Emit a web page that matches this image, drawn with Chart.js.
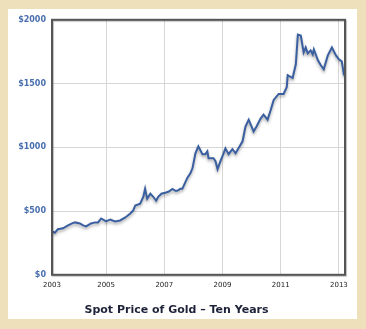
<!DOCTYPE html>
<html>
<head>
<meta charset="utf-8">
<script src="https://cdn.jsdelivr.net/npm/chart.js@4/dist/chart.umd.min.js"></script>
<style>
  html, body { margin: 0; padding: 0; }
  body { width: 366px; height: 329px; background: #efe0bc; position: relative; overflow: hidden; }
  #goldChart { position: absolute; left: 8px; top: 9px; background: #fff; }
</style>
</head>
<body>
<canvas id="goldChart" width="349" height="310"></canvas>
<script>
// decimal year of each reading
const years = [
  2003.14, 2003.24, 2003.34, 2003.52, 2003.69, 2003.83, 2003.93, 2004.10, 2004.21, 2004.31,
  2004.48, 2004.62, 2004.72, 2004.83, 2005.00, 2005.14, 2005.31, 2005.48, 2005.66, 2005.83,
  2005.93, 2006.00, 2006.17, 2006.28, 2006.34, 2006.41, 2006.52, 2006.62, 2006.72, 2006.79,
  2006.90, 2007.03, 2007.14, 2007.28, 2007.38, 2007.45, 2007.55, 2007.62, 2007.79, 2007.90,
  2007.97, 2008.07, 2008.17, 2008.31, 2008.41, 2008.48, 2008.52, 2008.69, 2008.76, 2008.83,
  2008.93, 2009.00, 2009.10, 2009.21, 2009.34, 2009.45, 2009.55, 2009.69, 2009.79, 2009.90,
  2010.00, 2010.07, 2010.17, 2010.31, 2010.41, 2010.55, 2010.66, 2010.76, 2010.93, 2011.10,
  2011.21, 2011.24, 2011.41, 2011.52, 2011.59, 2011.69, 2011.79, 2011.86, 2011.93, 2012.03,
  2012.10, 2012.14, 2012.28, 2012.38, 2012.48, 2012.62, 2012.76, 2012.90, 2013.00, 2013.10,
  2013.17, 2013.21
];
// spot price in US dollars
const prices = [
  341, 330, 357, 365, 388, 403, 411, 403, 388, 380,
  403, 411, 411, 442, 419, 434, 419, 426, 450, 481,
  504, 543, 558, 612, 674, 597, 636, 612, 581, 612,
  636, 643, 651, 674, 659, 659, 674, 674, 760, 798,
  837, 953, 1008, 946, 946, 969, 915, 915, 891, 829,
  891, 930, 992, 946, 985, 953, 992, 1047, 1163, 1217,
  1163, 1124, 1163, 1225, 1256, 1217, 1295, 1372, 1419, 1419,
  1473, 1566, 1543, 1651, 1884, 1876, 1744, 1783, 1736, 1760,
  1729, 1767, 1682, 1643, 1612, 1721, 1783, 1721, 1690, 1674,
  1574, 1558
];
const xTickYears = [2005, 2007, 2009, 2011, 2013];
const xFirstLabel = "2003";
const yTicks = [0, 500, 1000, 1500, 2000];

const points = years.map((y, i) => ({ x: y, y: prices[i] }));

// shadow under the line, box round the plot
const lineShadow = {
  id: "lineShadow",
  beforeDatasetsDraw(chart) {
    const c = chart.ctx;
    c.save();
    c.shadowColor = "rgba(0,0,0,0.35)";
    c.shadowBlur = 3;
    c.shadowOffsetY = 2;
  },
  afterDatasetsDraw(chart) {
    chart.ctx.restore();
  }
};
const plotBox = {
  id: "plotBox",
  afterDraw(chart) {
    const c = chart.ctx;
    const a = chart.chartArea;
    c.save();
    c.strokeStyle = "#555";
    c.lineWidth = 2;
    c.shadowColor = "rgba(0,0,0,0.25)";
    c.shadowOffsetX = 1;
    c.shadowOffsetY = 1;
    c.shadowBlur = 1;
    c.strokeRect(a.left, a.top, a.right - a.left, a.bottom - a.top);
    c.restore();
  }
};

const ctx = document.querySelector("#goldChart").getContext("2d");
const goldChart = new Chart(ctx, {
  type: "line",
  data: {
    datasets: [
      {
        data: points,
        borderColor: "#3a5fa0",
        borderWidth: 2,
        pointRadius: 0,
        tension: 0,
        fill: false
      }
    ]
  },
  options: {
    responsive: false,
    animation: false,
    events: [],
    layout: { padding: { top: 8, right: 12, left: 0, bottom: 0 } },
    scales: {
      x: {
        type: "linear",
        min: years[0],
        max: years[years.length - 1],
        afterBuildTicks: s => {
          s.ticks = [years[0]].concat(xTickYears).map(v => ({ value: v }));
        },
        afterFit: s => { s.height = 22; },
        grid: { color: "#d6d6d6", lineWidth: 1, drawTicks: false },
        border: { display: false },
        ticks: {
          padding: 6,
          maxRotation: 0,
          autoSkip: false,
          color: "#222",
          font: { family: "DejaVu Sans", size: 7 },
          callback: v => (v < xTickYears[0] - 1 ? xFirstLabel : String(v))
        }
      },
      y: {
        min: yTicks[0],
        max: yTicks[yTicks.length - 1],
        afterBuildTicks: s => { s.ticks = yTicks.map(v => ({ value: v })); },
        afterFit: s => { s.width = 44; },
        grid: { color: "#d6d6d6", lineWidth: 1, drawTicks: false },
        border: { display: false },
        ticks: {
          padding: 6,
          color: "#4a6fae",
          font: { family: "DejaVu Sans", size: 8, weight: "bold" },
          callback: v => "$" + v
        }
      }
    },
    plugins: {
      legend: { display: false },
      tooltip: { enabled: false },
      title: {
        display: true,
        position: "bottom",
        text: "Spot Price of Gold \u2013 Ten Years",
        color: "#1e2238",
        padding: { top: 7, bottom: 2 },
        font: { family: "DejaVu Sans", size: 11, weight: "bold" }
      }
    }
  },
  plugins: [lineShadow, plotBox]
});
</script>
</body>
</html>
